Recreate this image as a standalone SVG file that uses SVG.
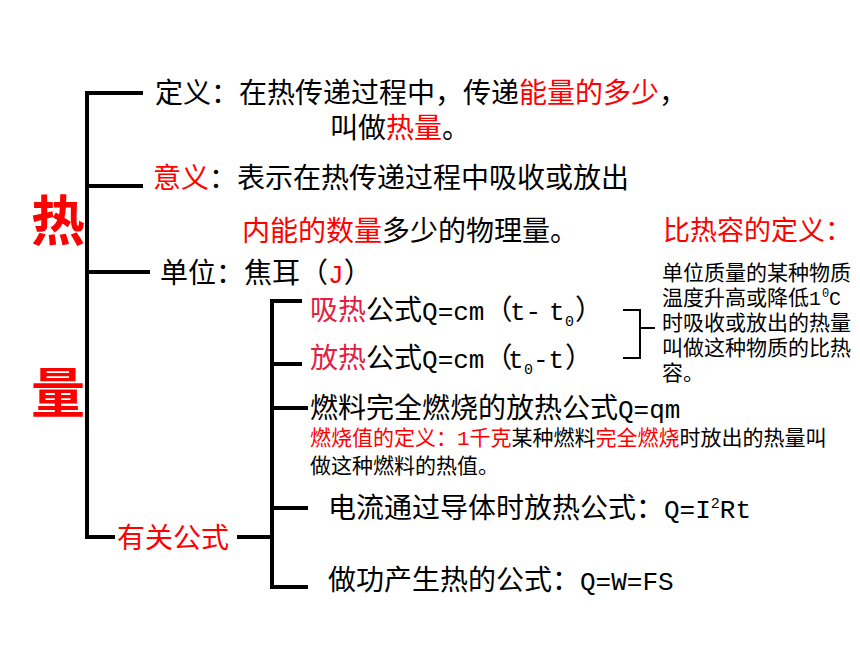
<svg xmlns="http://www.w3.org/2000/svg" width="860" height="645" viewBox="0 0 860 645">
<style>
text{font-family:"Noto Sans CJK SC","Noto Sans CJK JP",sans-serif;fill:#000}
.f28{font-size:28px}
.f27{font-size:27px}
.f21{font-size:21px}
.big{font-size:54px;font-weight:bold;fill:#ff0000}
.r{fill:#ff0000}
.p{fill:#e3203f}
.m{font-family:"Liberation Mono","DejaVu Sans Mono",monospace}
.sub{font-family:"Liberation Mono","DejaVu Sans Mono",monospace;font-size:15px}
.ln{fill:none;stroke:#000;stroke-width:4}
.ln2{fill:none;stroke:#000;stroke-width:2}
</style>
<rect width="860" height="645" fill="#fff"/>
<g id="connectors">
<path class="ln" d="M143,93 H87 V537 H115 M87,186 H143 M87,272 H150"/>
<path class="ln" d="M237,537 H272 M302,301 H272 V587 H308 M272,364 H302 M272,408 H308 M272,508 H308"/>
<path class="ln2" d="M623,310 H640 V358 H623 M640,328 H655"/>
</g>
<g id="root">
<text class="big" x="31" y="241">热</text>
<text class="big" x="31" y="413">量</text>
</g>
<g id="definition">
<text class="f28" x="155" y="103">定义：在热传递过程中，传递<tspan class="r">能量的多少</tspan>，</text>
<text class="f28" x="330" y="138">叫做<tspan class="r">热量</tspan>。</text>
</g>
<g id="meaning">
<text class="f28" x="153" y="188"><tspan class="r">意义</tspan>：表示在热传递过程中吸收或放出</text>
<text class="f28" x="242" y="241"><tspan class="r">内能的数量</tspan>多少的物理量。</text>
</g>
<g id="unit">
<text class="f28" x="160" y="283">单位：焦耳（<tspan class="m r" font-size="26">J</tspan>）</text>
</g>
<g id="specific-heat">
<text class="f27 r" x="663" y="240">比热容的定义：</text>
<text class="f21" x="662" y="280">单位质量的某种物质</text>
<text class="f21" x="662" y="305">温度升高或降低<tspan class="m" font-size="20">1</tspan><tspan class="m" font-size="12" x="822" dy="-8">0</tspan><tspan class="m" font-size="20" x="829" dy="8">C</tspan></text>
<text class="f21" x="662" y="330">时吸收或放出的热量</text>
<text class="f21" x="662" y="355">叫做这种物质的比热</text>
<text class="f21" x="662" y="380">容。</text>
</g>
<g id="formulas">
<text class="f28 r" x="117" y="548">有关公式</text>
</g>
<g id="absorb">
<text class="f28" x="310" y="320"><tspan class="p">吸热</tspan>公式<tspan class="m" font-size="26">Q=cm</tspan>（<tspan class="m" font-size="26" x="510">t-</tspan><tspan class="m" font-size="26" x="549">t</tspan><tspan class="sub" x="565" dy="6">0</tspan><tspan x="575" dy="-6">）</tspan></text>
</g>
<g id="release">
<text class="f28" x="310" y="368"><tspan class="p">放热</tspan>公式<tspan class="m" font-size="26">Q=cm</tspan>（<tspan class="m" font-size="26" x="508">t</tspan><tspan class="sub" x="524" dy="6">0</tspan><tspan class="m" font-size="26" x="533" dy="-6">-t</tspan><tspan x="565">）</tspan></text>
</g>
<g id="fuel">
<text class="f28" x="310" y="418">燃料完全燃烧的放热公式<tspan class="m" font-size="26">Q=qm</tspan></text>
<text class="f21" x="310" y="445"><tspan class="r">燃烧值的定义：</tspan><tspan class="m r">1</tspan><tspan class="r">千克</tspan>某种燃料<tspan class="r">完全燃烧</tspan>时放出的热量叫</text>
<text class="f21" x="310" y="473">做这种燃料的热值。</text>
</g>
<g id="electric">
<text class="f28" x="328" y="518">电流通过导体时放热公式：<tspan class="m" font-size="26">Q=I</tspan><tspan class="sub" dy="-10">2</tspan><tspan class="m" font-size="26" dy="10">Rt</tspan></text>
</g>
<g id="work">
<text class="f28" x="328" y="590">做功产生热的公式：<tspan class="m" font-size="26">Q=W=FS</tspan></text>
</g>
</svg>
